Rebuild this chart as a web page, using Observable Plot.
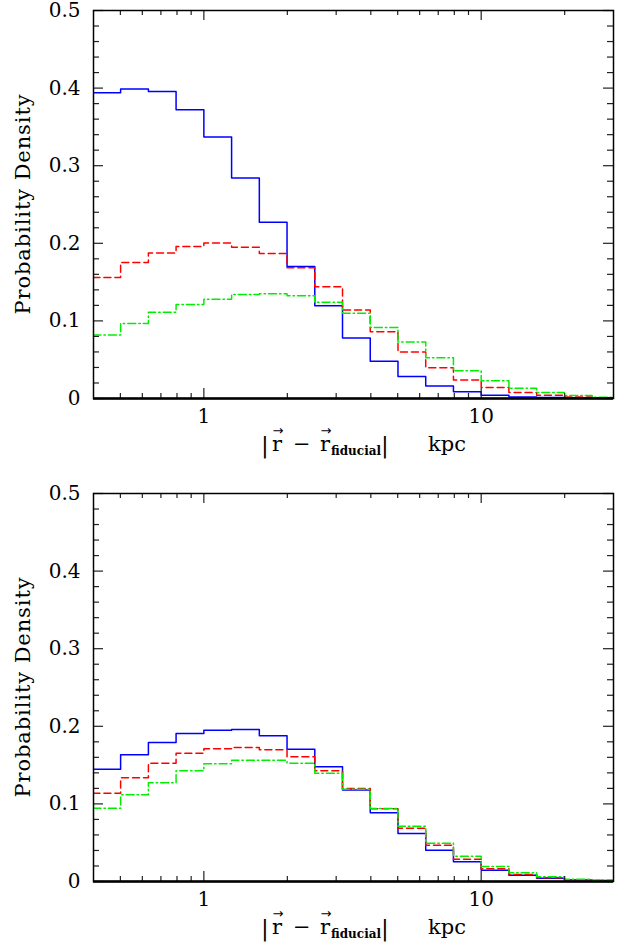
<!DOCTYPE html>
<html>
<head>
<meta charset="utf-8">
<script src="https://cdn.jsdelivr.net/npm/d3@7"></script>
<script src="https://cdn.jsdelivr.net/npm/@observablehq/plot@0.6"></script>
<style>
  html, body { margin: 0; padding: 0; background: #fff; }
  #chart { width: 624px; }
  svg { display: block; }
</style>
</head>
<body>
<div id="chart"></div>
<script>
// Bin edges (kpc), 0.1 dex wide
const binEdges = [0.398, 0.501, 0.631, 0.794, 1.0, 1.259, 1.585, 1.995, 2.512, 3.162, 3.981, 5.012, 6.310, 7.943, 10.0, 12.59, 15.85, 19.95, 25.12, 31.62];

// Top panel
const topBlue  = [0.394, 0.399, 0.3955, 0.372, 0.337, 0.284, 0.227, 0.170, 0.1195, 0.078, 0.048, 0.0284, 0.016, 0.0086, 0.0043, 0.002, 0.0013, 0.0009, 0.0004];
const topRed   = [0.156, 0.1754, 0.1874, 0.196, 0.2003, 0.195, 0.187, 0.1685, 0.144, 0.114, 0.086, 0.0598, 0.0396, 0.024, 0.0142, 0.0077, 0.0043, 0.002, 0.001];
const topGreen = [0.0817, 0.0967, 0.111, 0.121, 0.128, 0.134, 0.135, 0.1324, 0.124, 0.110, 0.0916, 0.0727, 0.0524, 0.0357, 0.0228, 0.0133, 0.0077, 0.0039, 0.0017];

// Bottom panel
const botBlue  = [0.1448, 0.1632, 0.179, 0.1907, 0.195, 0.1959, 0.1877, 0.1705, 0.1478, 0.118, 0.0885, 0.0619, 0.0404, 0.0253, 0.0146, 0.0082, 0.0043, 0.0021, 0.0013];
const botRed   = [0.1138, 0.1336, 0.1525, 0.1654, 0.171, 0.1727, 0.1697, 0.1607, 0.1426, 0.1198, 0.0936, 0.0687, 0.0468, 0.0288, 0.0163, 0.009, 0.0047, 0.0021, 0.0013];
const botGreen = [0.0945, 0.1117, 0.1271, 0.1426, 0.1516, 0.1564, 0.1564, 0.1525, 0.1396, 0.119, 0.094, 0.0713, 0.0494, 0.0326, 0.0193, 0.0112, 0.006, 0.003, 0.0017];

// Ticks
const xMajorTicks = [1, 10];
const xTickLabels = ["1", "10"];
const xMinorTicks = [0.5, 0.6, 0.7, 0.8, 0.9, 2, 3, 4, 5, 6, 7, 8, 9, 20];
const yMajorTicks = [0, 0.1, 0.2, 0.3, 0.4, 0.5];
const yTickLabels = ["0", "0.1", "0.2", "0.3", "0.4", "0.5"];
const yMinorTicks = [0.02, 0.04, 0.06, 0.08, 0.12, 0.14, 0.16, 0.18, 0.22, 0.24, 0.26, 0.28, 0.32, 0.34, 0.36, 0.38, 0.42, 0.44, 0.46, 0.48];

const yLabel = "Probability Density";

function steps(values) {
  return binEdges.map((e, i) => ({x: e, y: values[Math.min(i, values.length - 1)]}));
}

function panel(blue, red, green, marginTop, marginBottom) {
  const width = 624, height = 472, marginLeft = 93, marginRight = 11;
  const innerH = height - marginTop - marginBottom;
  const innerW = width - marginLeft - marginRight;
  const tickStroke = {stroke: "#222", strokeWidth: 1.2};
  const svg = Plot.plot({
    width, height, marginTop, marginBottom, marginLeft, marginRight,
    style: {fontFamily: "DejaVu Serif", fontSize: "20px", background: "white", color: "black", overflow: "visible"},
    x: {type: "log", domain: [0.4, 30]},
    y: {domain: [0, 0.5]},
    marks: [
      Plot.line(steps(blue), {x: "x", y: "y", curve: "step-after", stroke: "#0000ff", strokeWidth: 1.5, clip: true}),
      Plot.line(steps(red), {x: "x", y: "y", curve: "step-after", stroke: "#ff0000", strokeWidth: 1.5, strokeDasharray: "7,4", clip: true}),
      Plot.line(steps(green), {x: "x", y: "y", curve: "step-after", stroke: "#00ee00", strokeWidth: 1.5, strokeDasharray: "8,3,1.5,3", clip: true}),
      // bottom & top x ticks (inward)
      Plot.tickX(xMinorTicks, {x: d => d, insetTop: innerH - 5, ...tickStroke}),
      Plot.tickX(xMajorTicks, {x: d => d, insetTop: innerH - 10, ...tickStroke}),
      Plot.tickX(xMinorTicks, {x: d => d, insetBottom: innerH - 5, ...tickStroke}),
      Plot.tickX(xMajorTicks, {x: d => d, insetBottom: innerH - 10, ...tickStroke}),
      // left & right y ticks (inward)
      Plot.tickY(yMinorTicks, {y: d => d, insetRight: innerW - 6, ...tickStroke}),
      Plot.tickY(yMajorTicks, {y: d => d, insetRight: innerW - 10, ...tickStroke}),
      Plot.tickY(yMinorTicks, {y: d => d, insetLeft: innerW - 6, ...tickStroke}),
      Plot.tickY(yMajorTicks, {y: d => d, insetLeft: innerW - 10, ...tickStroke}),
      Plot.frame({stroke: "black", strokeWidth: 1.5}),
      Plot.ruleY([0], {stroke: "black", strokeWidth: 2.6}),
      Plot.axisX(xMajorTicks, {tickSize: 0, tickPadding: 10, tickFormat: d => xTickLabels[xMajorTicks.indexOf(d)], fontSize: 20, label: null}),
      Plot.axisY(yMajorTicks, {tickSize: 0, tickPadding: 13, tickFormat: d => yTickLabels[yMajorTicks.indexOf(d)], fontSize: 20, label: null})
    ]
  });

  const s = d3.select(svg);
  // y-axis label
  s.append("text")
    .attr("transform", `translate(30,${marginTop + innerH / 2}) rotate(-90)`)
    .attr("text-anchor", "middle")
    .attr("font-family", "DejaVu Serif")
    .attr("font-size", 21)
    .attr("letter-spacing", "0.9px")
    .attr("fill", "black")
    .text(yLabel);

  // x-axis label: |r - r_fiducial|  kpc
  const by = marginTop + innerH + 53;
  const g = s.append("g").attr("font-family", "DejaVu Serif").attr("fill", "black").attr("text-anchor", "start");
  const t = g.append("text").attr("y", by).attr("font-size", 21).attr("text-anchor", "start");
  t.append("tspan").attr("x", 261).attr("y", by + 2).attr("font-size", 23).text("|");
  t.append("tspan").attr("x", 272).attr("y", by).text("r");
  t.append("tspan").attr("x", 293).attr("y", by).text("−");
  t.append("tspan").attr("x", 320).attr("y", by).text("r");
  t.append("tspan").attr("x", 331).attr("y", by + 4).attr("font-size", 12).attr("font-weight", "bold").text("fiducial");
  t.append("tspan").attr("x", 381).attr("y", by + 2).attr("font-size", 23).text("|");
  t.append("tspan").attr("x", 428).attr("y", by).text("kpc");
  // vector arrows above the r's
  [278, 326].forEach(cx => {
    g.append("text").attr("x", cx).attr("y", by - 16).attr("text-anchor", "middle")
      .attr("font-family", "DejaVu Sans").attr("font-size", 13).text("→");
  });
  return svg;
}

const chart = document.getElementById("chart");
chart.appendChild(panel(topBlue, topRed, topGreen, 10, 74));
chart.appendChild(panel(botBlue, botRed, botGreen, 21, 63));
</script>
</body>
</html>
